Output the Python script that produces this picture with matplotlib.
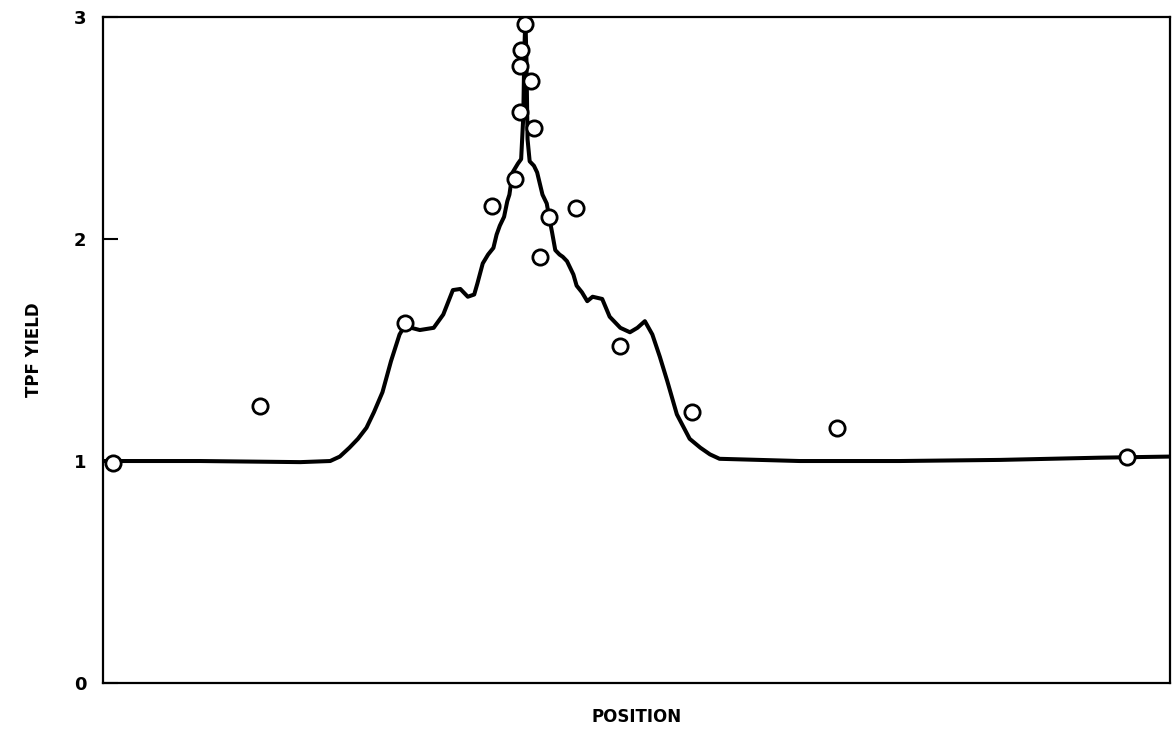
import matplotlib.pyplot as plt

# measured TPF yield (open circles)
pts_x = [0.94, 14.7, 28.3, 36.5, 38.6, 39.1, 39.1, 39.2, 39.6, 40.1, 40.4,
         41.8, 41.0, 44.3, 48.5, 55.2, 68.8, 96.0]
pts_y = [0.99, 1.25, 1.62, 2.15, 2.27, 2.57, 2.78, 2.85, 2.97, 2.71, 2.50,
         2.10, 1.92, 2.14, 1.52, 1.22, 1.15, 1.02]

# calculated curve
curve_x = [0.0, 9.1, 18.5, 21.3, 22.2, 23.1, 23.9, 24.7, 25.4, 26.2, 27.0,
           27.8, 28.3, 28.9, 29.7, 31.0, 31.9, 32.8, 33.5, 34.2, 34.8, 35.1,
           35.6, 36.1, 36.6, 36.9, 37.2, 37.6, 37.9, 38.1, 38.4, 38.9, 39.2,
           39.4, 39.5, 39.6, 39.7, 39.8, 40.0, 40.4, 40.7, 41.0, 41.2, 41.6,
           41.9, 42.1, 42.4, 42.8, 43.1, 43.5, 44.1, 44.4, 44.9, 45.4, 45.9,
           46.8, 47.5, 48.5, 49.4, 50.1, 50.8, 51.5, 52.2, 52.9, 53.8, 55.0,
           56.0, 56.9, 57.8, 65.3, 74.7, 84.1, 93.4, 100.0]
curve_y = [1.0, 1.0, 0.995, 1.0, 1.02, 1.06, 1.10, 1.15, 1.22, 1.31, 1.45,
           1.57, 1.61, 1.60, 1.59, 1.60, 1.66, 1.77, 1.775, 1.74, 1.75, 1.80,
           1.89, 1.93, 1.96, 2.02, 2.06, 2.10, 2.17, 2.20, 2.30, 2.34, 2.36,
           2.55, 2.85, 3.00, 2.80, 2.45, 2.35, 2.33, 2.30, 2.24, 2.20, 2.16,
           2.08, 2.03, 1.95, 1.93, 1.92, 1.90, 1.84, 1.79, 1.76, 1.72, 1.74,
           1.73, 1.65, 1.60, 1.58, 1.60, 1.63, 1.57, 1.47, 1.36, 1.21, 1.10,
           1.06, 1.03, 1.01, 1.0, 1.0, 1.005, 1.015, 1.02]

yticks = [0, 1, 2, 3]

fig = plt.figure(figsize=(11.72, 7.40), dpi=100)
ax = fig.add_axes([0.0879, 0.077, 0.9101, 0.9])

ax.plot(curve_x, curve_y, color='black', lw=2.9, solid_joinstyle='round', zorder=2)
ax.plot(pts_x, pts_y, 'o', ms=11, mfc='white', mec='black', mew=2.0, zorder=3)

ax.set_xlim(0, 100)
ax.set_ylim(0, 3.0)
ax.set_xticks([])
ax.set_yticks(yticks)
ax.set_yticklabels([str(t) for t in yticks], fontweight='bold', fontsize=13)
ax.tick_params(axis='y', direction='in', length=11, width=1.5, pad=12)
for s in ax.spines.values():
    s.set_linewidth(1.6)

ax.set_xlabel("POSITION", fontweight='bold', fontsize=12, labelpad=18)
ax.set_ylabel("TPF YIELD", fontweight='bold', fontsize=12, labelpad=22)

fig.savefig("out.png", dpi=100)
